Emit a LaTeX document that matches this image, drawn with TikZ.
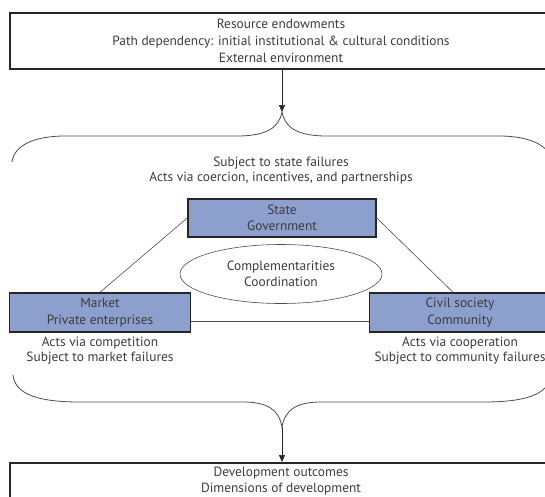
\documentclass[tikz,border=0pt]{standalone}
\usepackage{fontspec}
\setmainfont{PT Sans}
\usetikzlibrary{arrows.meta,shapes.geometric}
\definecolor{sectorblue}{RGB}{141,159,204}
\definecolor{inkgray}{RGB}{60,60,60}

\begin{document}
\begin{tikzpicture}[x=1pt,y=-1pt,
    every node/.style={align=center, text=inkgray, font=\fontsize{13.4}{16.5}\selectfont},
    framebox/.style={draw=black!85, line width=1.5pt, inner sep=0pt},
    sectorbox/.style={framebox, fill=sectorblue, minimum width=181pt, minimum height=39pt},
    notes/.style={font=\fontsize{13.4}{15.5}\selectfont},
    link/.style={draw=black!70, line width=0.6pt},
    brace/.style={draw=black!70, line width=0.8pt},
    flow/.style={draw=black!85, line width=0.6pt, -{Triangle[length=7pt,width=6pt]}}]
    % the picture is cut off at the right and bottom
    \useasboundingbox (0,0) rectangle (545,496);
    \clip (0,0) rectangle (545,496);

    \node[framebox, minimum width=542pt, minimum height=56pt,
        font=\fontsize{13.4}{17}\selectfont] (inputs) at (281,41)
        {Resource endowments\\Path dependency: initial institutional \& cultural conditions\\External environment};
    \node[framebox, notes, minimum width=542pt, inner ysep=4.5pt, anchor=north] (outcomes) at (281,462)
        {Development outcomes\\Dimensions of development};

    % the three sectors
    \node[sectorbox, minimum width=188pt, minimum height=38pt] (state) at (282,218) {State\\Government};
    \node[sectorbox] (market) at (100,312.5) {Market\\Private enterprises};
    \node[sectorbox] (civil) at (460,312.5) {Civil society\\Community};

    \node[ellipse, draw=black!70, line width=0.6pt, minimum width=202pt, minimum height=59pt] (coord) at (281,274) {Complementarities\\Coordination};

    % links between sectors
    \path ([yshift=-8.5pt]market.east) coordinate (mlink);
    \draw[link] (state.west) -- (market.north);
    \draw[link] (state.east) -- ([xshift=-7pt]civil.north);
    \draw[link] (mlink) -- (mlink -| civil.west);

    % notes round the sectors
    \node[notes] (statenotes) at (281,170.5) {Subject to state failures\\Acts via coercion, incentives, and partnerships};
    \node[notes] (marketnotes) at (100,350.5) {Acts via competition\\Subject to market failures};
    \node[notes] (civilnotes) at (460,350.5) {Acts via cooperation\\Subject to community failures};

    % braces
    \coordinate (toptip) at (282,112);
    \coordinate (bottip) at (282,427);
    \draw[brace] (12,162) .. controls (14,145) and (35,136) .. (65,136) -- (237,136)
        .. controls (266,136) and (279,128) .. (toptip)
        .. controls (285,128) and (298,136) .. (327,136) -- (499,136)
        .. controls (529,136) and (550,145) .. (552,162);
    \draw[brace] (13,375) .. controls (15,395) and (40,402) .. (80,402) -- (243,402)
        .. controls (268,402) and (279,410) .. (bottip)
        .. controls (285,410) and (296,402) .. (321,402) -- (484,402)
        .. controls (524,402) and (549,395) .. (551,375);

    \draw[flow] (inputs.south -| toptip) -- (toptip);
    \draw[flow] (bottip) -- (bottip |- outcomes.north);
\end{tikzpicture}
\end{document}
